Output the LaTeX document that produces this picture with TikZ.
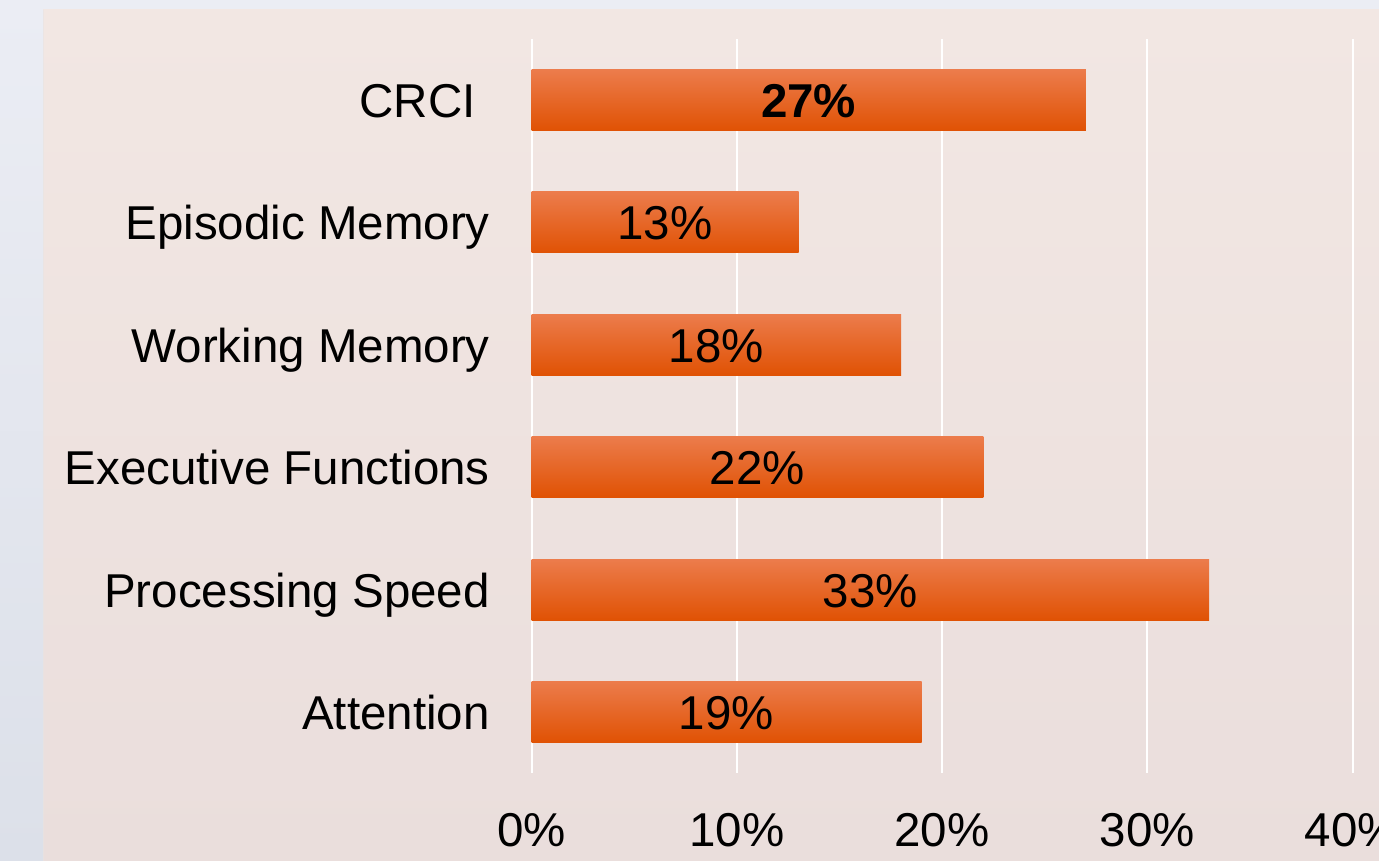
\documentclass[tikz,border=0pt]{standalone}
\usepackage{fontspec}
\setmainfont{Liberation Sans}
\begin{document}
\begin{tikzpicture}[x=1pt,y=-1pt,
  grid/.style={draw=white,line width=2pt},
  bar/.style={draw=none,inner sep=0pt,minimum height=61pt,anchor=west,
    shade,top color=barTop,middle color=barMid,bottom color=barBot},
  cat/.style={anchor=base east,inner sep=0pt,font=\fontsize{47.5}{57}\selectfont},
  val/.style={anchor=base,inner sep=0pt,font=\fontsize{47.5}{57}\selectfont},
  tick/.style={anchor=base,inner sep=0pt,font=\fontsize{47.5}{57}\selectfont}]
\definecolor{barTop}{RGB}{236,124,76}
\definecolor{barMid}{RGB}{240,98,18}
\definecolor{barBot}{RGB}{224,82,4}
\definecolor{outTop}{RGB}{235,237,244}
\definecolor{outBot}{RGB}{220,224,233}
\definecolor{plotTop}{RGB}{242,231,227}
\definecolor{plotBot}{RGB}{234,222,220}
\useasboundingbox (0,0) rectangle (1379,861);
\shade[top color=outTop,bottom color=outBot] (0,0) rectangle (1379,861);
\shade[top color=plotTop,bottom color=plotBot] (43,10) rectangle (1379,861);
\draw[white!80!gray,line width=1pt,opacity=0.5] (43.5,10) -- (43.5,861);
% gridlines
\foreach \k in {0,1,2,3,4}{
  \draw[grid] ({531.5+205.25*\k},39) -- ({531.5+205.25*\k},773);
}
% bars: value, center y, name, category, label
\def\xz{531.5}
\def\sc{20.525}
\foreach \v/\cy/\nm/\cat in {27/100/crci/{CRCI}, 13/222.5/epi/{Episodic Memory}, 18/344.5/wm/{Working Memory}, 22/466.5/ef/{Executive Functions}, 33/589.5/ps/{Processing Speed}, 19/711.5/att/{Attention}}{
  \node[bar,minimum width={\v*\sc pt}] (\nm) at (\xz,\cy) {};
}
\node[val] (vcrci) at ({\xz+27*\sc/2},{100+17.5}) {\textbf{27\%}};
\node[val] (vepi) at ({\xz+13*\sc/2},{222.5+17.5}) {13\%};
\node[val] (vwm) at ({\xz+18*\sc/2},{344.5+17.5}) {18\%};
\node[val] (vef) at ({\xz+22*\sc/2},{466.5+17.5}) {22\%};
\node[val] (vps) at ({\xz+33*\sc/2},{589.5+17.5}) {33\%};
\node[val] (vatt) at ({\xz+19*\sc/2},{711.5+17.5}) {19\%};
% category labels
\node[cat] (lcrci) at (476,{100+17.5}) {CRCI};
\node[cat] (lepi) at (490,{222.5+17.5}) {Episodic Memory};
\node[cat] (lwm) at (490,{344.5+17.5}) {Working Memory};
\node[cat] (lef) at (490,{466.5+17.5}) {Executive Functions};
\node[cat] (lps) at (490,{589.5+17.5}) {Processing Speed};
\node[cat] (latt) at (490,{711.5+17.5}) {Attention};
% axis ticks
\node[tick] (t0) at (531.5,846) {0\%};
\node[tick] (t1) at (736.75,846) {10\%};
\node[tick] (t2) at (942,846) {20\%};
\node[tick] (t3) at (1147.25,846) {30\%};
\node[tick] (t4) at (1352.5,846) {40\%};
\end{tikzpicture}
\end{document}
